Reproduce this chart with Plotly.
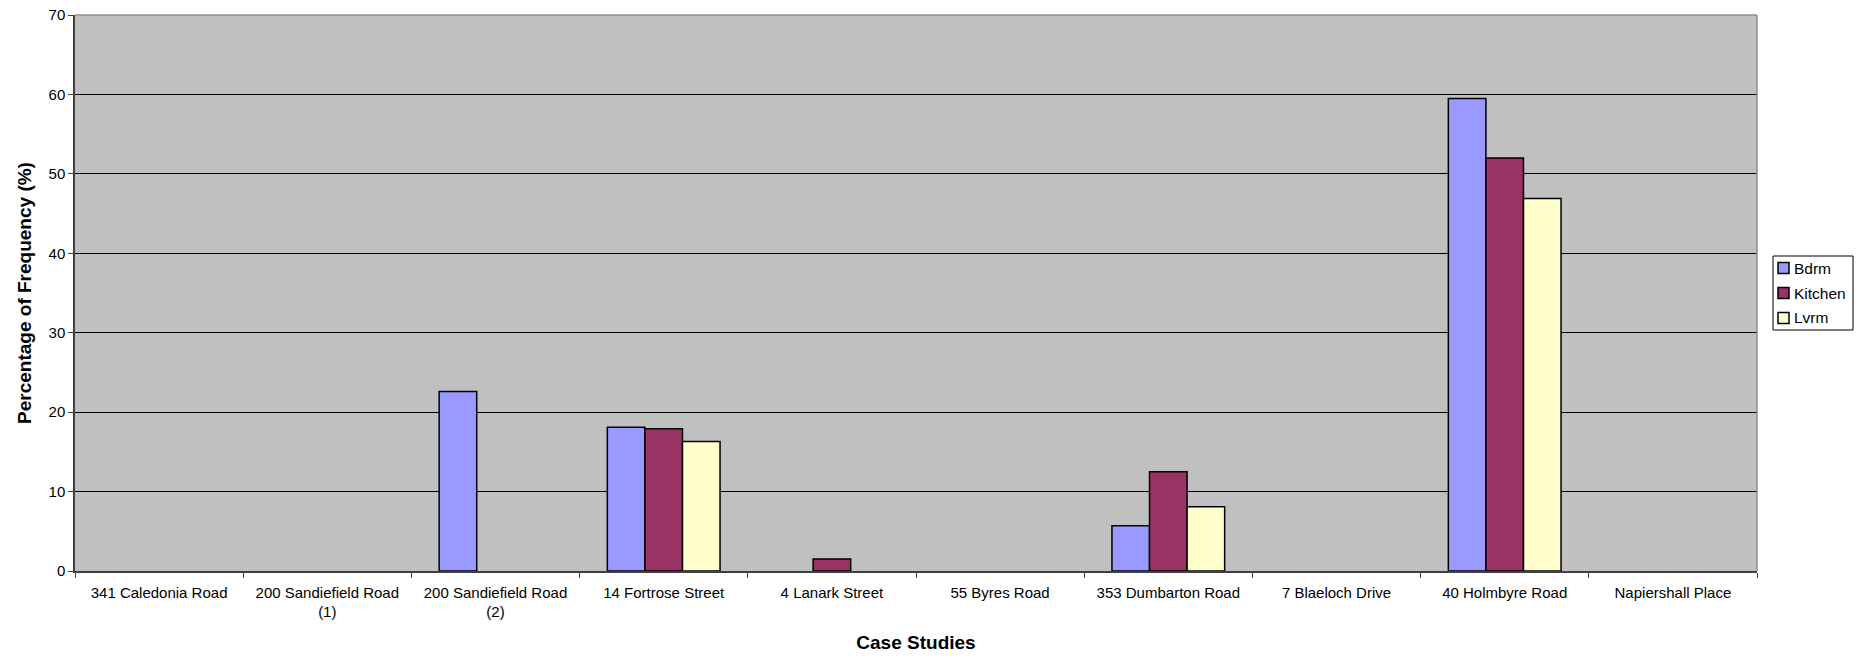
import plotly.graph_objects as go

categories = [
    "341 Caledonia Road",
    "200 Sandiefield Road<br>(1)",
    "200 Sandiefield Road<br>(2)",
    "14 Fortrose Street",
    "4 Lanark Street",
    "55 Byres Road",
    "353 Dumbarton Road",
    "7 Blaeloch Drive",
    "40 Holmbyre Road",
    "Napiershall Place",
]
bdrm = [0, 0, 22.6, 18.1, 0, 0, 5.7, 0, 59.5, 0]
kitchen = [0, 0, 0, 17.9, 1.5, 0, 12.5, 0, 52.0, 0]
lvrm = [0, 0, 0, 16.3, 0, 0, 8.1, 0, 46.9, 0]

series_names = ["Bdrm", "Kitchen", "Lvrm"]
series_values = [bdrm, kitchen, lvrm]
series_colors = ["#9999FF", "#993366", "#FFFFCC"]

y_ticks = [0, 10, 20, 30, 40, 50, 60, 70]

FONT = "Liberation Sans, Arial, sans-serif"

W, H = 1861, 659
ML, MR, MT, MB = 75, 104, 15, 88
PW = W - ML - MR
PH = H - MT - MB


def px_x(px):
    return (px - ML) / PW


def px_y(py):
    return (H - MB - py) / PH


fig = go.Figure()
for name, vals, col in zip(series_names, series_values, series_colors):
    fig.add_trace(go.Bar(
        x=categories, y=vals, name=name,
        marker=dict(color=col,
                    line=dict(color="#000000", width=[1.5 if v else 0 for v in vals])),
    ))

shapes = [
    dict(type="line", xref="paper", yref="paper", x0=0, x1=1, y0=1, y1=1,
         line=dict(color="#909090", width=1.5)),
    dict(type="line", xref="paper", yref="paper", x0=1, x1=1, y0=0, y1=1,
         line=dict(color="#909090", width=1.5)),
    # legend box
    dict(type="rect", xref="paper", yref="paper",
         x0=px_x(1773), x1=px_x(1853), y0=px_y(330), y1=px_y(256),
         line=dict(color="#000000", width=1), fillcolor="#FFFFFF"),
]
annotations = []
for i, (name, col) in enumerate(zip(series_names, series_colors)):
    cy = 268 + 25 * i
    shapes.append(dict(type="rect", xref="paper", yref="paper",
                       x0=px_x(1778), x1=px_x(1789), y0=px_y(cy + 5.5), y1=px_y(cy - 5.5),
                       line=dict(color="#000000", width=1.5), fillcolor=col))
    annotations.append(dict(text=name, xref="paper", yref="paper",
                            x=px_x(1792), y=px_y(cy), xanchor="left", yanchor="middle",
                            showarrow=False, font=dict(family=FONT, size=15.5, color="#000000")))

fig.update_layout(
    width=W, height=H,
    barmode="group", bargap=0.33, bargroupgap=0,
    plot_bgcolor="#C0C0C0", paper_bgcolor="#FFFFFF",
    margin=dict(l=ML, r=MR, t=MT, b=MB, autoexpand=False),
    font=dict(family=FONT, size=15, color="#000000"),
    showlegend=False,
    hovermode=False,
    xaxis=dict(
        type="category", showgrid=False, tickson="boundaries",
        ticks="outside", ticklen=5, tickcolor="#404040",
        showline=True, linecolor="#404040", linewidth=1.5,
        tickfont=dict(family=FONT, size=15), ticklabelstandoff=7,
        title=dict(text="<b>Case Studies</b>", font=dict(family=FONT, size=19), standoff=16),
        automargin=False,
    ),
    yaxis=dict(
        range=[0, 70], tickvals=y_ticks, showgrid=True, gridcolor="#000000", gridwidth=1,
        ticks="outside", ticklen=5, tickcolor="#404040",
        showline=True, linecolor="#404040", linewidth=1.5, zeroline=False,
        tickfont=dict(family=FONT, size=15), ticklabeloverflow="allow",
        title=dict(text="<b>Percentage of Frequency (%)</b>", font=dict(family=FONT, size=19), standoff=12),
        automargin=False,
    ),
    shapes=shapes,
    annotations=annotations,
)

fig.write_html("out.html", config={"displayModeBar": False},
               post_script="document.body.style.margin='0';")
